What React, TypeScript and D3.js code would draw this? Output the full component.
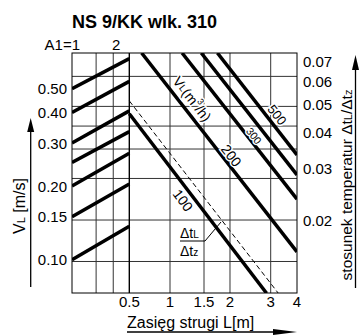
import React from 'react';
import * as d3 from 'd3';

const title = 'NS 9/KK wlk. 310';

// left panel: V_L [m/s] read at A1 = 1 and where each line meets the L = 0.5 border
const vStart = [0.5, 0.4, 0.3, 0.25, 0.2, 0.15, 0.1];
const vEnd = [0.664, 0.536, 0.406, 0.334, 0.2725, 0.204, 0.137];
const vTicks = [0.5, 0.4, 0.3, 0.2, 0.15, 0.1];
const a1Ticks = [1, 1.5, 2];
const a1Edge = 2.62;

// right panel: jet range L [m] against temperature ratio
const lTicks = [0.5, 1, 1.5, 2, 3, 4];
const ratioTicks = [0.07, 0.06, 0.05, 0.04, 0.03, 0.02];
const ratioGrid = [0.0624, 0.0492, 0.0421, 0.0351, 0.0278, 0.02, 0.0144];

// air flow lines V_L [m3/h]
const flowValues = [100, 200, 300, 400, 500];
const flowL0 = [0.5, 0.617, 1.155, 1.452, 1.74];
const flowR0 = [0.0464, 0.0751, 0.0751, 0.0751, 0.0751];
const flowL1 = [2.88, 4, 4, 4, 4];
const flowR1 = [0.0112, 0.01555, 0.0236, 0.0286, 0.0335];
const flowLabelL = [1.283, 1.9, 2.436, null, 2.98];

const dashedL = [0.5, 3.26];
const dashedR = [0.0514, 0.0112];

const W = 359;
const H = 336;
const left = 72;
const right = 297;
const top = 53;
const bottom = 293;
const font = '"Liberation Sans", Arial, sans-serif';

// where the L ticks fall across the plot width (the printed scale is irregular)
const lFrac = [0.2547, 0.4356, 0.5867, 0.7022, 0.8831, 1];

const labelStyle: Record<number, { size: number; off: number }> = {
  100: { size: 14, off: -10 },
  200: { size: 14, off: 7.5 },
  300: { size: 10.5, off: 5.5 },
  500: { size: 13, off: 8.8 },
};

export default function App() {
  const x = d3
    .scaleLog()
    .domain(lTicks)
    .range(lFrac.map((f) => left + f * (right - left)));
  const yR = d3.scaleLog().domain([0.01122, 0.0751]).range([bottom, top]);
  const yV = d3.scaleLog().domain([0.0731, 0.7]).range([bottom, top]);
  const xA = d3.scaleLog().domain([1, a1Edge]).range([left, x(0.5)]);

  const line = d3.line<[number, number]>();

  const flows = flowValues.map((v, i) => {
    const p0: [number, number] = [x(flowL0[i]), yR(flowR0[i])];
    const p1: [number, number] = [x(flowL1[i]), yR(flowR1[i])];
    const ang = Math.atan2(p1[1] - p0[1], p1[0] - p0[0]);
    return { v, p0, p1, ang, labelL: flowLabelL[i] };
  });

  const along = (f: typeof flows[0], L: number, off: number) => {
    const lx = x(L);
    const t = (lx - f.p0[0]) / (f.p1[0] - f.p0[0]);
    const ly = f.p0[1] + t * (f.p1[1] - f.p0[1]);
    return [lx + Math.sin(f.ang) * off, ly - Math.cos(f.ang) * off];
  };

  const f200 = flows[1];
  const [vlx, vly] = along(f200, 1.168, 11.4);
  const deg = (a: number) => (a * 180) / Math.PI;

  const halo = { stroke: '#fff', strokeWidth: 3, paintOrder: 'stroke' as const };

  return (
    <div style={{ position: 'absolute', left: 0, top: 0 }}>
      <svg width={W} height={H} style={{ display: 'block', background: '#fff' }} fontFamily={font}>
        <defs>
          <clipPath id="plot">
            <rect x={left} y={top} width={right - left} height={bottom - top} />
          </clipPath>
        </defs>

        <text x={72} y={27.5} fontSize={18} fontWeight="bold" fill="#000">
          {title}
        </text>

        {/* grid */}
        <g stroke="#333" strokeWidth={1} fill="none">
          {ratioGrid.map((r) => (
            <line key={'h' + r} x1={left} x2={right} y1={yR(r)} y2={yR(r)} />
          ))}
          {a1Ticks.slice(1).map((a) => (
            <line key={'a' + a} x1={xA(a)} x2={xA(a)} y1={top} y2={bottom} />
          ))}
          {lTicks.slice(1, -1).map((l) => (
            <line key={'l' + l} x1={x(l)} x2={x(l)} y1={top} y2={bottom} />
          ))}
          <rect x={left} y={top} width={right - left} height={bottom - top} stroke="#000" />
          <line x1={x(0.5)} x2={x(0.5)} y1={top} y2={bottom} stroke="#000" strokeWidth={1.4} />
        </g>

        {/* A1 lines and flow lines */}
        <g clipPath="url(#plot)" stroke="#000" strokeWidth={3.5} strokeLinecap="butt">
          {vStart.map((v, i) => (
            <path
              key={'v' + v}
              d={line([
                [xA(1), yV(v)],
                [xA(a1Edge), yV(vEnd[i])],
              ]) as string}
            />
          ))}
          {flows.map((f) => (
            <path key={'f' + f.v} d={line([f.p0, f.p1]) as string} />
          ))}
          <path
            d={line([
              [x(dashedL[0]), yR(dashedR[0])],
              [x(dashedL[1]), yR(dashedR[1])],
            ]) as string}
            strokeWidth={1}
            strokeDasharray="5,3"
          />
        </g>

        {/* flow labels */}
        {flows
          .filter((f) => f.labelL != null)
          .map((f) => {
            const st = labelStyle[f.v];
            const [lx, ly] = along(f, f.labelL as number, st.off);
            return (
              <text
                key={'t' + f.v}
                x={lx}
                y={ly}
                fontSize={st.size}
                textAnchor="middle"
                dominantBaseline="central"
                transform={`rotate(${deg(f.ang)},${lx},${ly})`}
                {...halo}
                fill="#000"
              >
                {f.v}
              </text>
            );
          })}
        <text
          x={vlx}
          y={vly}
          fontSize={14}
          textAnchor="middle"
          dominantBaseline="central"
          transform={`rotate(${deg(f200.ang)},${vlx},${vly})`}
          {...halo}
          fill="#000"
        >
          V<tspan fontSize={10}>L</tspan>(m<tspan fontSize={9} dy={-5}>3</tspan>
          <tspan dy={5}>/h)</tspan>
        </text>

        {/* delta t fraction */}
        <g fontSize={14} fill="#000">
          <text x={180} y={238}>
            Δt<tspan fontSize={10}>L</tspan>
          </text>
          <text x={180} y={256}>
            Δt<tspan fontSize={10}>z</tspan>
          </text>
          <path d="M180,241H205L221,222" stroke="#000" strokeWidth={1} fill="none" />
        </g>

        {/* left ticks */}
        <g fontSize={15} fill="#000" textAnchor="end">
          {vTicks.map((v) => (
            <text key={'vt' + v} x={67} y={yV(v)} dominantBaseline="central">
              {v.toFixed(2)}
            </text>
          ))}
        </g>
        <g fontSize={15} fill="#000">
          <text x={80} y={50} textAnchor="end">
            A1=1
          </text>
          <text x={xA(2) + 3} y={50} textAnchor="middle">
            2
          </text>
        </g>

        {/* right ticks */}
        <g fontSize={15} fill="#000">
          {ratioTicks.map((r) => (
            <text key={'rt' + r} x={303} y={yR(r)} dominantBaseline="central">
              {r.toFixed(2)}
            </text>
          ))}
        </g>

        {/* bottom ticks */}
        <g fontSize={15} fill="#000" textAnchor="middle">
          {lTicks.map((l) => (
            <text key={'lt' + l} x={x(l)} y={307}>
              {l}
            </text>
          ))}
        </g>

        {/* axis titles and arrows */}
        <text x={127} y={328} fontSize={16} fill="#000">
          Zasięg strugi L[m]
        </text>
        <line x1={127} x2={275} y1={332} y2={332} stroke="#000" strokeWidth={1.3} />
        <path d="M297,332L273,329L273,335Z" fill="#000" />

        <text
          transform="translate(25,206) rotate(-90)"
          fontSize={16}
          textAnchor="middle"
          fill="#000"
        >
          V<tspan fontSize={11}>L</tspan> [m/s]
        </text>
        <line x1={30.7} x2={30.7} y1={130} y2={287} stroke="#000" strokeWidth={1.3} />
        <path d="M30.7,118L27.2,132L34.2,132Z" fill="#000" />

        <text
          transform="translate(352,185) rotate(-90)"
          fontSize={15.5}
          textAnchor="middle"
          fill="#000"
        >
          stosunek temperatur Δt<tspan fontSize={11}>L</tspan>/Δt<tspan fontSize={11}>z</tspan>
        </text>
        <line x1={355.5} x2={355.5} y1={68} y2={288} stroke="#000" strokeWidth={1.3} />
        <path d="M355.5,55L352,70L359,70Z" fill="#000" />
      </svg>
    </div>
  );
}
